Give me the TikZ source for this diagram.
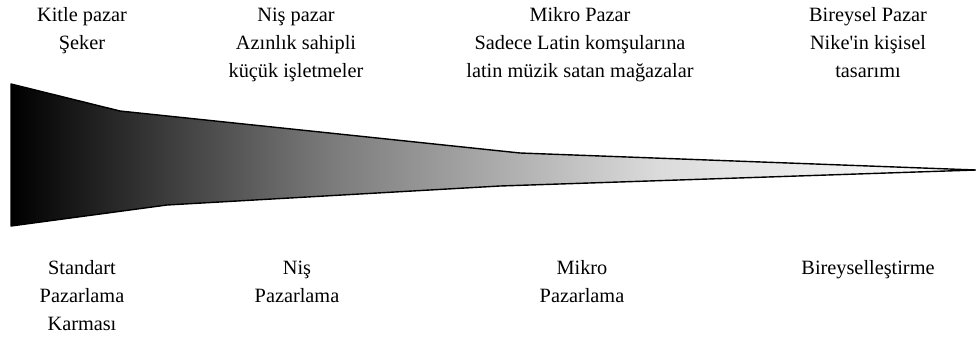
\documentclass[tikz,border=0pt]{standalone}
\usepackage{fontspec}
\setmainfont{Liberation Serif}
\pgfdeclarehorizontalshading{wedgeshade}{100bp}{color(0bp)=(black); color(25bp)=(black); color(41.5bp)=(black!52); color(58.6bp)=(black!14); color(75bp)=(white); color(100bp)=(white)}
\tikzset{
  lbl/.style={anchor=north, inner sep=0pt, align=center, font=\fontsize{20.3}{28}\selectfont},
  wedge/.style={draw=black, line width=1.4pt, line join=round, shading=wedgeshade}
}
\begin{document}
\begin{tikzpicture}[x=1pt,y=-1pt]
\useasboundingbox (0,0) rectangle (976,340);
\path[wedge] (11,84) -- (120,111) -- (520,153) -- (976,170) -- (500,186) -- (167,205) -- (11,226) -- cycle;
% top labels
\node[lbl] (t1) at (82,1.4) {\strut Kitle pazar\\Şeker};
\node[lbl] (t2) at (296,1.4) {\strut Niş pazar\\Azınlık sahipli\\küçük işletmeler};
\node[lbl] (t3) at (580,1.4) {\strut Mikro Pazar\\Sadece Latin komşularına\\latin müzik satan mağazalar};
\node[lbl] (t4) at (868,1.4) {\strut Bireysel Pazar\\Nike\textquotesingle in kişisel\\tasarımı};
% bottom labels
\node[lbl] (b1) at (82,254.4) {\strut Standart\\Pazarlama\\Karması};
\node[lbl] (b2) at (297,254.4) {\strut Niş\\Pazarlama};
\node[lbl] (b3) at (582,254.4) {\strut Mikro\\Pazarlama};
\node[lbl] (b4) at (868,254.4) {\strut Bireyselleştirme};
\end{tikzpicture}
\end{document}
